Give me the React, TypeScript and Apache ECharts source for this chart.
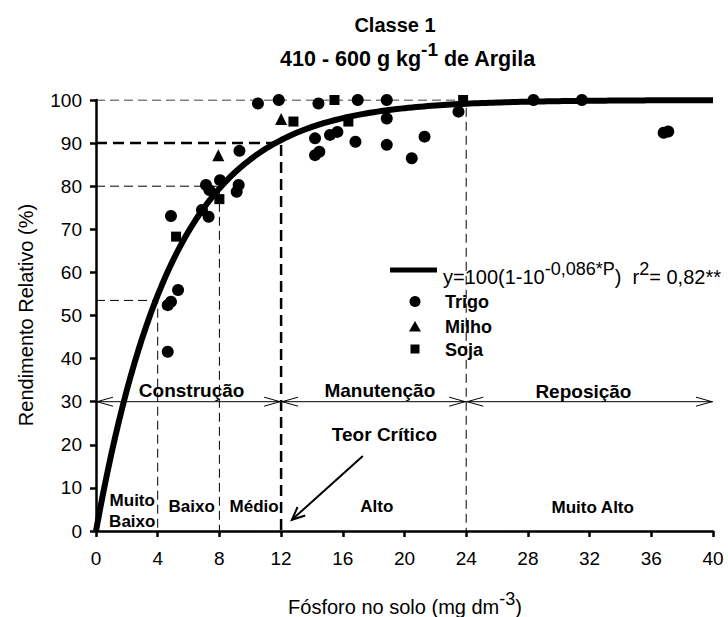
import React, { useEffect, useRef } from "react";
import * as echarts from "echarts";

const FONT = "'Liberation Sans', Arial, Helvetica, sans-serif";

// Fitted model shown in the legend: y = 100(1 - 10^(-0.086 P))
const MODEL_A = 100;
const MODEL_B = 0.086;

const trigoX = [10.5, 11.85, 9.3, 7.13, 8.04, 7.35, 9.25, 9.12, 6.87, 7.3, 4.86, 5.32, 4.65, 4.86, 4.65, 14.42, 16.97, 18.85, 23.5, 18.85, 14.2, 15.17, 15.65, 14.2, 14.48, 16.82, 18.85, 21.3, 20.47, 28.36, 31.5, 36.8, 37.1];
const trigoY = [99.2, 100, 88.2, 80.3, 81.4, 79.1, 80.3, 78.7, 74.5, 72.9, 73.1, 55.9, 52.4, 53.2, 41.6, 99.2, 100, 100, 97.3, 95.7, 91.1, 91.9, 92.6, 87.2, 88.0, 90.3, 89.6, 91.5, 86.5, 100, 100, 92.4, 92.7];

const milhoX = [7.93, 12.15, 12.0, 15.0, 21.0];
const milhoY = [87.2, 100.3, 95.6, 100.3, 100.3];

const sojaX = [5.19, 8.0, 12.8, 15.46, 16.36, 23.8];
const sojaY = [68.3, 77.0, 95.0, 100, 95.0, 100];

// Reference (critical level) guide lines: [x, y]
const guide53 = [[0, 53.5], [4, 53.5], [4, 0]];
const guide80 = [[0, 80], [8, 80], [8, 0]];
const guide90 = [[0, 90], [12, 90], [12, 0]];
const guide100 = [[0, 100], [24, 100], [24, 0]];

// Double arrows at y = 30: [x1, x2, y]
const spanArrows = [[0, 12, 30], [12, 24, 30], [24, 40, 30]];
// "Teor Crítico" pointer: [x1, y1, x2, y2]
const pointerArrow = [[17.3, 17.4, 12.7, 2.6]];

const annoText = ["Construção", "Manutenção", "Reposição", "Teor Crítico", "Muito\nBaixo", "Baixo", "Médio", "Alto", "Muito Alto"];
const annoX = [6.2, 18.4, 31.6, 18.7, 2.35, 6.2, 10.25, 18.2, 32.2];
const annoY = [32.6, 32.6, 32.4, 22.5, 4.6, 5.6, 5.6, 5.6, 5.4];
const annoSize = [19, 19, 19, 19, 17, 17, 17, 17, 17];

const xTickInterval = 4;
const yTickInterval = 10;

const curveData: number[][] = [];
for (let i = 0; i <= 160; i++) {
  const p = i * 0.25;
  curveData.push([p, MODEL_A * (1 - Math.pow(10, -MODEL_B * p))]);
}

type Piece = { t: string; sup?: boolean };

let measureCtx: CanvasRenderingContext2D | null = null;
function measure(text: string, font: string) {
  if (!measureCtx) measureCtx = document.createElement("canvas").getContext("2d");
  measureCtx!.font = font;
  return measureCtx!.measureText(text).width;
}

function richLine(pieces: Piece[], x: number, y: number, size: number, bold: boolean, align: "left" | "center", supRatio = 0.88) {
  const supSize = Math.round(size * supRatio);
  const w = bold ? "bold " : "";
  const fonts = pieces.map((p) => `${w}${p.sup ? supSize : size}px ${FONT}`);
  const widths = pieces.map((p, i) => measure(p.t, fonts[i]));
  const total = widths.reduce((a, b) => a + b, 0);
  let cx = align === "center" ? x - total / 2 : x;
  const out: any[] = [];
  pieces.forEach((p, i) => {
    out.push({
      type: "text",
      x: cx,
      y: p.sup ? y - size * 0.42 : y,
      silent: true,
      style: {
        text: p.t,
        font: fonts[i],
        fill: "#000",
        textAlign: "left",
        textVerticalAlign: "middle",
        align: "left",
        verticalAlign: "middle",
      },
    });
    cx += widths[i];
  });
  return out;
}

export default function App() {
  const ref = useRef<HTMLDivElement>(null);
  useEffect(() => {
    const chart = echarts.init(ref.current!, null, { renderer: "svg" });

    const graphic: any[] = [
      ...richLine([{ t: "Classe 1" }], 395, 25, 20, true, "center"),
      ...richLine([{ t: "410 - 600 g kg" }, { t: "-1", sup: true }, { t: " de Argila" }], 408, 59, 21.5, true, "center"),
      ...richLine([{ t: "Fósforo no solo (mg dm" }, { t: "-3", sup: true }, { t: ")" }], 405, 607, 20, false, "center"),
      {
        type: "text",
        x: 26,
        y: 315,
        rotation: Math.PI / 2,
        silent: true,
        style: {
          text: "Rendimento Relativo (%)",
          font: `20px ${FONT}`,
          fill: "#000",
          textAlign: "center",
          textVerticalAlign: "middle",
          align: "center",
          verticalAlign: "middle",
        },
      },
      // legend
      { type: "rect", shape: { x: 390, y: 267.5, width: 47, height: 5 }, style: { fill: "#000" }, silent: true },
      ...richLine(
        [{ t: "y=100(1-10" }, { t: "-0,086*P", sup: true }, { t: ")  r" }, { t: "2", sup: true }, { t: "= 0,82**" }],
        443, 277, 20, false, "left", 0.9
      ),
      { type: "circle", shape: { cx: 415, cy: 301.5, r: 5.5 }, style: { fill: "#000" }, silent: true },
      { type: "polygon", shape: { points: [[415, 321], [421, 331.5], [409, 331.5]] }, style: { fill: "#000" }, silent: true },
      { type: "rect", shape: { x: 410.5, y: 344.5, width: 9, height: 9 }, style: { fill: "#000" }, silent: true },
      ...richLine([{ t: "Trigo" }], 445, 301.5, 18, true, "left"),
      ...richLine([{ t: "Milho" }], 445, 326.5, 18, true, "left"),
      ...richLine([{ t: "Soja" }], 445, 350, 18, true, "left"),
    ];

    const guideSeries = (data: number[][], thick: boolean) => ({
      type: "line",
      data,
      symbol: "none",
      silent: true,
      z: 1,
      lineStyle: { color: "#000", width: thick ? 2.5 : 1, type: thick ? [11, 6] : [9, 5] },
    });

    chart.setOption({
      animation: false,
      backgroundColor: "#fff",
      grid: { left: 96, right: 15, top: 100, bottom: 86, containLabel: false },
      xAxis: {
        type: "value",
        min: 0,
        max: 40,
        interval: xTickInterval,
        axisLine: { show: true, onZero: false, lineStyle: { color: "#000", width: 2.5 } },
        axisTick: { show: true, length: 6, lineStyle: { color: "#000", width: 2.5 } },
        axisLabel: { color: "#000", fontSize: 19, fontFamily: FONT, margin: 18 },
        splitLine: { show: false },
      },
      yAxis: {
        type: "value",
        min: 0,
        max: 100,
        interval: yTickInterval,
        axisLine: { show: true, onZero: false, lineStyle: { color: "#000", width: 2.5 } },
        axisTick: { show: true, length: 6, lineStyle: { color: "#000", width: 2.5 } },
        axisLabel: { color: "#000", fontSize: 19, fontFamily: FONT, margin: 14 },
        splitLine: { show: false },
      },
      graphic,
      series: [
        guideSeries(guide53, false),
        guideSeries(guide80, false),
        guideSeries(guide90, true),
        guideSeries(guide100, false),
        {
          type: "custom",
          coordinateSystem: "cartesian2d",
          data: spanArrows,
          encode: { x: [0, 1], y: 2 },
          silent: true,
          clip: false,
          z: 2,
          renderItem: (params: any, api: any) => {
            const p1 = api.coord([api.value(0), api.value(2)]);
            const p2 = api.coord([api.value(1), api.value(2)]);
            const L = 17;
            const H = 4.5;
            const st = { stroke: "#000", lineWidth: 1, fill: "none" };
            return {
              type: "group",
              children: [
                { type: "line", shape: { x1: p1[0], y1: p1[1], x2: p2[0], y2: p2[1] }, style: st },
                { type: "polyline", shape: { points: [[p1[0] + L, p1[1] - H], [p1[0] + 1, p1[1]], [p1[0] + L, p1[1] + H]] }, style: st },
                { type: "polyline", shape: { points: [[p2[0] - L, p2[1] - H], [p2[0] - 1, p2[1]], [p2[0] - L, p2[1] + H]] }, style: st },
              ],
            };
          },
        },
        {
          type: "custom",
          coordinateSystem: "cartesian2d",
          data: pointerArrow,
          encode: { x: [0, 2], y: [1, 3] },
          silent: true,
          clip: false,
          z: 2,
          renderItem: (params: any, api: any) => {
            const p1 = api.coord([api.value(0), api.value(1)]);
            const p2 = api.coord([api.value(2), api.value(3)]);
            const ang = Math.atan2(p2[1] - p1[1], p2[0] - p1[0]);
            const hl = 14;
            const ha = 0.42;
            const a1 = [p2[0] - hl * Math.cos(ang - ha), p2[1] - hl * Math.sin(ang - ha)];
            const a2 = [p2[0] - hl * Math.cos(ang + ha), p2[1] - hl * Math.sin(ang + ha)];
            const st = { stroke: "#000", lineWidth: 2, fill: "none" };
            return {
              type: "group",
              children: [
                { type: "line", shape: { x1: p1[0], y1: p1[1], x2: p2[0], y2: p2[1] }, style: st },
                { type: "polyline", shape: { points: [a1, p2, a2] }, style: st },
              ],
            };
          },
        },
        {
          type: "line",
          data: curveData,
          symbol: "none",
          smooth: false,
          silent: true,
          z: 3,
          lineStyle: { color: "#000", width: 6 },
        },
        {
          type: "scatter",
          data: trigoX.map((x, i) => [x, trigoY[i]]),
          symbol: "circle",
          symbolSize: 12,
          itemStyle: { color: "#000", opacity: 1 },
          z: 4,
        },
        {
          type: "scatter",
          data: milhoX.map((x, i) => [x, milhoY[i]]),
          symbol: "triangle",
          symbolSize: 12,
          itemStyle: { color: "#000", opacity: 1 },
          z: 4,
        },
        {
          type: "scatter",
          data: sojaX.map((x, i) => [x, sojaY[i]]),
          symbol: "rect",
          symbolSize: 10,
          itemStyle: { color: "#000", opacity: 1 },
          z: 4,
        },
        {
          type: "custom",
          coordinateSystem: "cartesian2d",
          data: annoX.map((x, i) => [x, annoY[i]]),
          encode: { x: 0, y: 1 },
          silent: true,
          clip: false,
          z: 5,
          renderItem: (params: any, api: any) => {
            const i = params.dataIndex;
            const p = api.coord([api.value(0), api.value(1)]);
            return {
              type: "text",
              x: p[0],
              y: p[1],
              style: {
                text: annoText[i],
                font: `bold ${annoSize[i]}px ${FONT}`,
                fill: "#000",
                lineHeight: 21,
                textAlign: "center",
                textVerticalAlign: "middle",
                align: "center",
                verticalAlign: "middle",
              },
            };
          },
        },
      ],
    });
    return () => chart.dispose();
  }, []);
  return <div ref={ref} style={{ position: "fixed", left: 0, top: 0, width: 728, height: 617, background: "#fff" }} />;
}
